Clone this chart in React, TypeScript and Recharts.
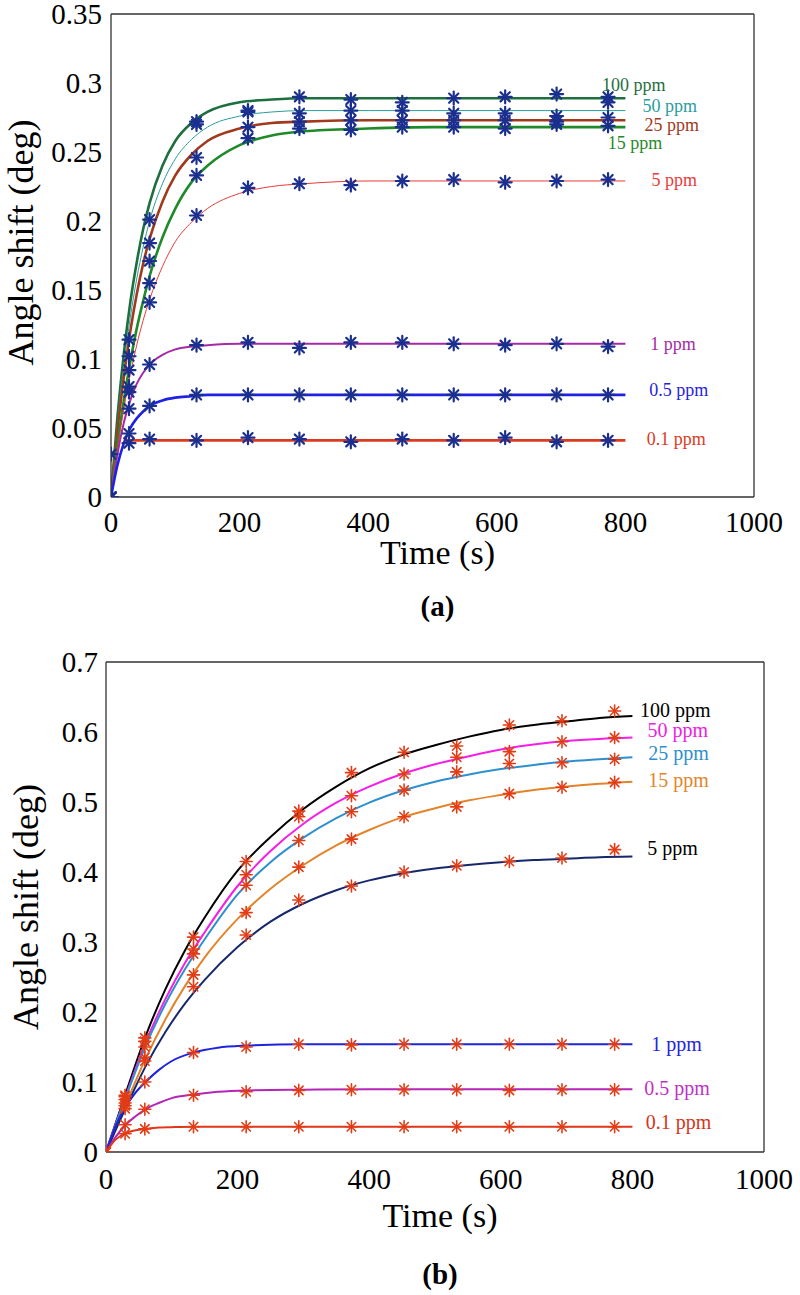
import { ComposedChart, Line, Scatter, XAxis, YAxis } from 'recharts'

const SERIF = '"Liberation Serif", "Times New Roman", serif'

const NAMES = ['100 ppm', '50 ppm', '25 ppm', '15 ppm', '5 ppm', '1 ppm', '0.5 ppm', '0.1 ppm']

// ---------- (a) ----------
const timesA = [0, 28, 60, 133, 213, 293, 373, 453, 533, 613, 693, 773]
const measA100 = [0, 0.114, 0.201, 0.272, 0.280, 0.290, 0.288, 0.286, 0.289, 0.290, 0.292, 0.290]
const measA50 = [0, 0.102, 0.184, 0.270, 0.279, 0.278, 0.280, 0.280, 0.278, 0.278, 0.276, 0.286]
const measA25 = [0, 0.092, 0.171, 0.246, 0.268, 0.272, 0.273, 0.273, 0.273, 0.273, 0.272, 0.275]
const measA15 = [0, 0.080, 0.155, 0.233, 0.260, 0.267, 0.266, 0.268, 0.268, 0.267, 0.270, 0.269]
const measA5 = [0, 0.076, 0.141, 0.204, 0.224, 0.227, 0.226, 0.229, 0.230, 0.228, 0.229, 0.230]
const measA1 = [0, 0.064, 0.096, 0.110, 0.112, 0.108, 0.112, 0.112, 0.111, 0.110, 0.111, 0.109]
const measA05 = [0, 0.046, 0.066, 0.074, 0.074, 0.074, 0.074, 0.074, 0.074, 0.074, 0.074, 0.074]
const measA01 = [0.031, 0.039, 0.042, 0.041, 0.043, 0.042, 0.040, 0.042, 0.041, 0.043, 0.040, 0.041]

const fitTimesA = [0, 10, 20, 30, 40, 50, 60, 80, 100, 125, 150, 200, 250, 300, 400, 500, 600, 700, 800]
const fitA100 = [0, 0.058, 0.104, 0.141, 0.170, 0.194, 0.213, 0.240, 0.258, 0.271, 0.279, 0.286, 0.288, 0.289, 0.289, 0.289, 0.289, 0.289, 0.289]
const fitA50 = [0, 0.053, 0.096, 0.130, 0.158, 0.181, 0.200, 0.227, 0.245, 0.259, 0.268, 0.276, 0.279, 0.280, 0.280, 0.280, 0.280, 0.280, 0.280]
const fitA25 = [0, 0.048, 0.087, 0.120, 0.147, 0.169, 0.187, 0.214, 0.233, 0.248, 0.258, 0.267, 0.271, 0.272, 0.273, 0.273, 0.273, 0.273, 0.273]
const fitA15 = [0, 0.038, 0.070, 0.098, 0.122, 0.142, 0.160, 0.188, 0.209, 0.228, 0.240, 0.255, 0.262, 0.265, 0.267, 0.268, 0.268, 0.268, 0.268]
const fitA5 = [0, 0.035, 0.064, 0.089, 0.110, 0.128, 0.143, 0.167, 0.185, 0.199, 0.209, 0.220, 0.225, 0.227, 0.229, 0.229, 0.229, 0.229, 0.229]
const fitA1 = [0, 0.031, 0.054, 0.070, 0.082, 0.090, 0.096, 0.103, 0.107, 0.109, 0.110, 0.111, 0.111, 0.111, 0.111, 0.111, 0.111, 0.111, 0.111]
const fitA05 = [0, 0.023, 0.039, 0.050, 0.057, 0.062, 0.066, 0.070, 0.072, 0.073, 0.074, 0.074, 0.074, 0.074, 0.074, 0.074, 0.074, 0.074, 0.074]
const fitTimesA01 = [22, 800]
const fitA01 = [0.041, 0.041]

const labelTimesA = [813, 869, 872, 815, 876, 874, 883, 879]
const labelValuesA = [0.2986, 0.2833, 0.270, 0.2565, 0.2297, 0.111, 0.078, 0.042]
const colorsA = ['#1d6f3d', '#2a9c9c', '#a13a1c', '#1f8a2a', '#ea3a3a', '#a52aa5', '#1f22e0', '#dc3a1e']
const widthsA = [2.6, 1, 2.6, 2.6, 1, 2, 2.6, 2.6]

const xTicks = [0, 200, 400, 600, 800, 1000]
const yTicksA = [0, 0.05, 0.1, 0.15, 0.2, 0.25, 0.3, 0.35]

// ---------- (b) ----------
const timesB = [0, 29, 59, 133, 213, 293, 373, 453, 533, 613, 693, 773]
const measB100 = [0, 0.081, 0.163, 0.307, 0.415, 0.487, 0.542, 0.571, 0.580, 0.610, 0.616, 0.630]
const measB50 = [0, 0.079, 0.158, 0.290, 0.396, 0.479, 0.509, 0.540, 0.564, 0.572, 0.586, 0.592]
const measB25 = [0, 0.075, 0.150, 0.283, 0.381, 0.445, 0.486, 0.517, 0.543, 0.555, 0.556, 0.561]
const measB15 = [0, 0.070, 0.135, 0.253, 0.342, 0.407, 0.447, 0.479, 0.493, 0.512, 0.521, 0.528]
const measB5 = [0, 0.066, 0.130, 0.236, 0.310, 0.360, 0.380, 0.400, 0.409, 0.415, 0.420, 0.432]
const measB1 = [0, 0.062, 0.100, 0.142, 0.150, 0.154, 0.153, 0.154, 0.154, 0.154, 0.154, 0.154]
const measB05 = [0, 0.039, 0.061, 0.081, 0.086, 0.088, 0.089, 0.089, 0.089, 0.088, 0.089, 0.089]
const measB01 = [0, 0.026, 0.033, 0.036, 0.036, 0.036, 0.036, 0.036, 0.036, 0.036, 0.036, 0.036]

const fitTimesB = [0, 30, 60, 90, 120, 150, 200, 250, 300, 350, 400, 450, 500, 550, 600, 650, 700, 750, 800]
const fitB100 = [0, 0.084, 0.165, 0.232, 0.288, 0.335, 0.402, 0.450, 0.490, 0.522, 0.548, 0.567, 0.581, 0.593, 0.603, 0.610, 0.615, 0.620, 0.623]
const fitB50 = [0, 0.080, 0.156, 0.218, 0.270, 0.314, 0.380, 0.430, 0.469, 0.499, 0.522, 0.540, 0.554, 0.565, 0.575, 0.582, 0.587, 0.590, 0.592]
const fitB25 = [0, 0.078, 0.151, 0.211, 0.261, 0.304, 0.368, 0.414, 0.449, 0.477, 0.499, 0.516, 0.529, 0.539, 0.547, 0.553, 0.558, 0.561, 0.564]
const fitB15 = [0, 0.068, 0.133, 0.189, 0.237, 0.278, 0.333, 0.376, 0.410, 0.438, 0.460, 0.478, 0.491, 0.502, 0.510, 0.517, 0.522, 0.526, 0.529]
const fitB5 = [0, 0.063, 0.122, 0.171, 0.212, 0.246, 0.293, 0.329, 0.355, 0.374, 0.388, 0.398, 0.405, 0.410, 0.414, 0.417, 0.419, 0.421, 0.422]
const fitTimesBLow = [0, 15, 30, 45, 60, 80, 100, 133, 170, 213, 300, 400, 500, 600, 700, 800]
const fitB1 = [0, 0.038, 0.065, 0.085, 0.100, 0.117, 0.130, 0.142, 0.149, 0.152, 0.154, 0.154, 0.154, 0.154, 0.154, 0.154]
const fitB05 = [0, 0.022, 0.039, 0.051, 0.061, 0.070, 0.077, 0.082, 0.086, 0.088, 0.089, 0.0895, 0.0895, 0.0895, 0.0895, 0.0895]
const fitB01 = [0, 0.018, 0.027, 0.031, 0.033, 0.035, 0.0355, 0.036, 0.036, 0.036, 0.036, 0.036, 0.036, 0.036, 0.036, 0.036]

const labelTimesB = [865, 869, 870, 870, 861, 867, 868, 870]
const labelValuesB = [0.631, 0.603, 0.570, 0.531, 0.434, 0.154, 0.091, 0.043]
const colorsB = ['#000000', '#f61ee6', '#2e8fcf', '#e3842a', '#16286a', '#1e24dc', '#b425b8', '#e0361a']
const labelColorsB = ['#000000', '#f020e0', '#2e8fcf', '#e3842a', '#000000', '#1e24dc', '#c030c8', '#d63418']
const yTicksB = [0, 0.1, 0.2, 0.3, 0.4, 0.5, 0.6, 0.7]

const pts = (ts: number[], vs: number[]) => ts.map((t, i) => ({ t, v: vs[i] }))

interface Series { name: string; fit: { t: number; v: number }[]; meas: { t: number; v: number }[]; color: string; width: number }

const seriesA: Series[] = [
  [fitTimesA, fitA100, measA100], [fitTimesA, fitA50, measA50], [fitTimesA, fitA25, measA25], [fitTimesA, fitA15, measA15],
  [fitTimesA, fitA5, measA5], [fitTimesA, fitA1, measA1], [fitTimesA, fitA05, measA05], [fitTimesA01, fitA01, measA01],
].map(([ft, fv, mv], i) => ({ name: NAMES[i], fit: pts(ft, fv), meas: pts(timesA, mv), color: colorsA[i], width: widthsA[i] }))

const seriesB: Series[] = [
  [fitTimesB, fitB100, measB100], [fitTimesB, fitB50, measB50], [fitTimesB, fitB25, measB25], [fitTimesB, fitB15, measB15],
  [fitTimesB, fitB5, measB5], [fitTimesBLow, fitB1, measB1], [fitTimesBLow, fitB05, measB05], [fitTimesBLow, fitB01, measB01],
].map(([ft, fv, mv], i) => ({ name: NAMES[i], fit: pts(ft, fv), meas: pts(timesB, mv), color: colorsB[i], width: 2 }))

const labelsA = NAMES.map((name, i) => ({ t: labelTimesA[i], v: labelValuesA[i], name, color: colorsA[i] }))
const labelsB = NAMES.map((name, i) => ({ t: labelTimesB[i], v: labelValuesB[i], name, color: labelColorsB[i] }))

// asterisk marker like matlab '*'
const star = (color: string, r: number, sw: number) => (p: any) => {
  const { cx, cy } = p
  const d = r * 0.707
  return (
    <g stroke={color} strokeWidth={sw} strokeLinecap="round">
      <line x1={cx - r} y1={cy} x2={cx + r} y2={cy} />
      <line x1={cx} y1={cy - r} x2={cx} y2={cy + r} />
      <line x1={cx - d} y1={cy - d} x2={cx + d} y2={cy + d} />
      <line x1={cx - d} y1={cy + d} x2={cx + d} y2={cy - d} />
    </g>
  )
}

const seriesLabel = (size: number) => (p: any) => (
  <text x={p.cx} y={p.cy} dy="0.35em" textAnchor="middle" fontSize={size} fontFamily={SERIF} fill={p.payload.color}>
    {p.payload.name}
  </text>
)

const xTitle = (tag: string, dyTitle: number, dyTag: number) => (p: any) => {
  const { x, y, width } = p.viewBox
  const cx = x + width / 2 + 5
  return (
    <g fontFamily={SERIF} fill="#000">
      <text x={cx} y={y + dyTitle} textAnchor="middle" fontSize={34}>Time (s)</text>
      <text x={cx} y={y + dyTag} textAnchor="middle" fontSize={29} fontWeight="bold">{tag}</text>
    </g>
  )
}

const yTitle = (bx: number, shift: number) => (p: any) => {
  const { y, height } = p.viewBox
  const cy = y + height / 2 + shift
  return (
    <text transform={`translate(${bx},${cy}) rotate(-90)`} textAnchor="middle" fontSize={36} fontFamily={SERIF} fill="#000">
      Angle shift (deg)
    </text>
  )
}

const AXIS = '#333'
const TICK_SIZE = 29

// tick text drawn ourselves so the size sticks
const tickText = (axis: 'x' | 'y') => (p: any) => {
  const { x, y, payload } = p
  return axis === 'x' ? (
    <text x={x} y={y} dy="0.71em" textAnchor="middle" fontSize={TICK_SIZE} fontFamily={SERIF} fill="#000">{payload.value}</text>
  ) : (
    <text x={x} y={y} dy="0.33em" textAnchor="end" fontSize={TICK_SIZE} fontFamily={SERIF} fill="#000">{payload.value}</text>
  )
}

interface PanelProps {
  series: Series[]
  labels: { t: number; v: number; name: string; color: string }[]
  yTicks: number[]
  yMax: number
  height: number
  margin: { top: number; right: number; bottom: number; left: number }
  markerColor: string
  markerR: number
  markerW: number
  labelSize: number
  tag: string
  titleDy: [number, number]
  yTitlePos: [number, number]
  xTickMargin: number
  yTickMargin: number
}

function Panel(p: PanelProps) {
  return (
    <ComposedChart width={800} height={p.height} margin={p.margin}>
      <XAxis type="number" dataKey="t" domain={[0, 1000]} ticks={xTicks} interval={0} allowDataOverflow
        height={50} tickLine={false} tickSize={0} tickMargin={p.xTickMargin} tick={tickText('x')}
        axisLine={{ stroke: AXIS, strokeWidth: 1.3 }}
        label={{ content: xTitle(p.tag, p.titleDy[0], p.titleDy[1]) }} />
      <XAxis xAxisId="bin" type="number" domain={[0, 1000]} ticks={xTicks} interval={0} allowDataOverflow
        orientation="bottom" mirror height={1} tick={false} axisLine={false} tickSize={7} tickLine={{ stroke: AXIS, strokeWidth: 1.3 }} />
      <XAxis xAxisId="top" type="number" domain={[0, 1000]} ticks={xTicks} interval={0} allowDataOverflow
        orientation="top" mirror height={1} tick={false} tickSize={7}
        axisLine={{ stroke: AXIS, strokeWidth: 1.3 }} tickLine={{ stroke: AXIS, strokeWidth: 1.3 }} />
      <YAxis type="number" dataKey="v" domain={[0, p.yMax]} ticks={p.yTicks} interval={0} allowDataOverflow
        width={70} tickLine={false} tickSize={0} tickMargin={p.yTickMargin} tick={tickText('y')}
        axisLine={{ stroke: AXIS, strokeWidth: 1.3 }}
        label={{ content: yTitle(p.yTitlePos[0], p.yTitlePos[1]) }} />
      <YAxis yAxisId="lin" type="number" domain={[0, p.yMax]} ticks={p.yTicks} interval={0} allowDataOverflow
        orientation="left" mirror width={1} tick={false} axisLine={false} tickSize={7} tickLine={{ stroke: AXIS, strokeWidth: 1.3 }} />
      <YAxis yAxisId="right" type="number" domain={[0, p.yMax]} ticks={p.yTicks} interval={0} allowDataOverflow
        orientation="right" mirror width={1} tick={false} tickSize={7}
        axisLine={{ stroke: AXIS, strokeWidth: 1.3 }} tickLine={{ stroke: AXIS, strokeWidth: 1.3 }} />

      {p.series.map(s => (
        <Line key={'f' + s.name} data={s.fit} dataKey="v" type="monotone" stroke={s.color} strokeWidth={s.width}
          dot={false} activeDot={false} isAnimationActive={false} />
      ))}
      {p.series.map(s => (
        <Scatter key={'m' + s.name} data={s.meas} dataKey="v" shape={star(p.markerColor, p.markerR, p.markerW)}
          isAnimationActive={false} />
      ))}
      <Scatter data={p.labels} dataKey="v" shape={seriesLabel(p.labelSize)} isAnimationActive={false} />
    </ComposedChart>
  )
}

export default function App() {
  return (
    <div style={{ position: 'absolute', left: 0, top: 0, width: 800, height: 1295, background: '#fff', fontFamily: SERIF }}>
      <div style={{ position: 'absolute', left: 0, top: 0 }}>
        <Panel series={seriesA} labels={labelsA} yTicks={yTicksA} yMax={0.35} height={640}
          margin={{ top: 14, right: 46, bottom: 93, left: 41 }}
          markerColor="#1b2f8f" markerR={6.5} markerW={2.2} labelSize={18} tag="(a)"
          titleDy={[67, 119]} yTitlePos={[33, -13]} xTickMargin={14} yTickMargin={9} />
      </div>
      <div style={{ position: 'absolute', left: 0, top: 640 }}>
        <Panel series={seriesB} labels={labelsB} yTicks={yTicksB} yMax={0.7} height={655}
          margin={{ top: 22, right: 36, bottom: 93, left: 36 }}
          markerColor="#e23c16" markerR={6} markerW={1.6} labelSize={20} tag="(b)"
          titleDy={[75, 132]} yTitlePos={[38, 0]} xTickMargin={16} yTickMargin={8} />
      </div>
    </div>
  )
}
